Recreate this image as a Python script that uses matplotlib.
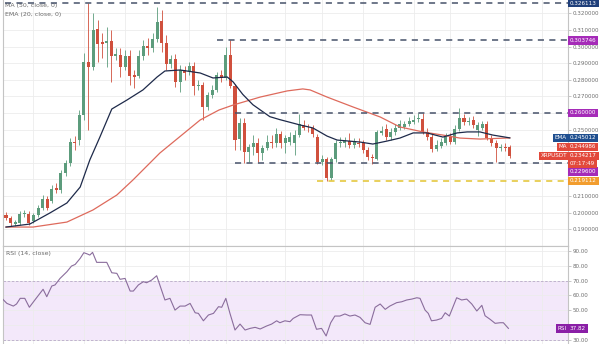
import numpy as np
import matplotlib
matplotlib.use("Agg")
import matplotlib.pyplot as plt

plt.rcParams['font.family'] = ['DejaVu Sans']

# ---------------- data ----------------
opens = [.1986,.1967,.1931,.1937,.1992,.1992,.1949,.1986,.2028,.2082,
         .2070,.2148,.2136,.2239,.2299,.2425,.2437,.2588,.2907,.2877,
         .3106,.3028,.3022,.3034,.2943,.2949,.2877,.2943,.2829,.2823,
         .2943,.3004,.2992,.3046,.3154,.3022,.2895,.2925,.2787,.2859,
         .2853,.2883,.2763,.2769,.2636,.2708,.2739,.2829,.2811,.2949,
         .2763,.2443,.2540,.2365,.2395,.2419,.2359,.2389,.2425,.2419,
         .2473,.2419,.2425,.2419,.2467,.2528,.2510,.2510,.2455,.2305,
         .2323,.2208,.2323,.2419,.2419,.2431,.2407,.2419,.2419,.2377,
         .2335,.2323,.2480,.2504,.2455,.2486,.2510,.2516,.2534,.2546,
         .2564,.2564,.2486,.2455,.2383,.2401,.2419,.2455,.2425,.2504,
         .2570,.2546,.2558,.2500,.2510,.2534,.2449,.2419,.2389,.2395,
         .2395]
highs = [.2004,.1980,.1955,.2010,.2016,.2010,.1998,.2046,.2106,.2100,
         .2166,.2178,.2257,.2317,.2449,.2461,.2618,.2961,.326113,.3202,
         .3160,.3082,.3118,.3100,.2992,.2992,.2980,.2980,.2859,.2980,
         .3040,.3052,.3082,.3238,.3220,.3070,.2949,.2955,.2889,.2883,
         .2907,.2907,.2799,.2787,.2727,.2769,.2847,.2859,.2998,.303746,
         .2775,.2570,.2570,.2413,.2467,.2449,.2407,.2467,.2467,.2510,
         .2492,.2467,.2486,.2498,.2595,.2558,.2534,.2528,.2473,.2347,
         .2335,.2335,.2437,.2455,.2455,.2480,.2449,.2449,.2437,.2395,
         .2353,.2498,.2522,.2534,.2510,.2534,.2558,.2552,.2576,.2588,
         .2600,.2600,.2510,.2480,.2437,.2449,.2480,.2480,.2528,.2630,
         .2594,.2576,.2582,.2546,.2552,.2552,.2467,.2437,.2413,.2419,
         .2407]
lows = [.1955,.1919,.1919,.1925,.1973,.1925,.1937,.1973,.2016,.2016,
        .2058,.2118,.2118,.2221,.2281,.2377,.2407,.2558,.2498,.2859,
        .2907,.2931,.2877,.2787,.2919,.2817,.2859,.2769,.2751,.2811,
        .2919,.2949,.2968,.3028,.2968,.2859,.2871,.2757,.2727,.2799,
        .2829,.2708,.2739,.2558,.2618,.2690,.2727,.2787,.2799,.2751,
        .2377,.2377,.2296,.2305,.2347,.2305,.2317,.2377,.2389,.2395,
        .2389,.2359,.2407,.2347,.2455,.2498,.2486,.2455,.2293,.2287,
        .219112,.2196,.2305,.2395,.2395,.2389,.2389,.2395,.2359,.2317,
        .2293,.2317,.2467,.2437,.2437,.2467,.2498,.2504,.2522,.2534,
        .2546,.2473,.2437,.2365,.2371,.2389,.2407,.2413,.2413,.2492,
        .2528,.2528,.2510,.2461,.2498,.2437,.2401,.2305,.2371,.2371,
        .2329]
closes = [.1967,.1937,.1943,.1992,.1995,.1937,.1986,.2028,.2082,.2028,
          .2142,.2136,.2239,.2299,.2425,.2419,.2588,.2907,.2877,.3100,
          .3016,.3016,.3034,.2943,.2955,.2877,.2943,.2823,.2817,.2943,
          .3004,.2992,.3046,.3148,.3022,.2895,.2925,.2787,.2859,.2841,
          .2883,.2763,.2769,.2636,.2708,.2739,.2829,.2811,.2949,.2763,
          .2437,.2540,.2365,.2395,.2419,.2359,.2389,.2425,.2422,.2473,
          .2419,.2449,.2455,.2467,.2534,.2510,.2507,.2473,.2305,.2323,
          .2208,.2323,.2419,.2425,.2431,.2407,.2431,.2416,.2377,.2335,
          .2329,.2486,.2492,.2455,.2486,.2510,.2534,.2534,.2552,.2558,
          .2570,.2486,.2455,.2383,.2407,.2425,.2455,.2425,.2504,.2570,
          .2546,.2549,.2528,.2528,.2534,.2449,.2419,.2389,.2395,.2389,
          .234217]

ema_idx = [0, 5.2, 9.6, 13.3, 16.2, 18.3, 20.5, 23.1, 26.4, 29.9, 33, 34.7, 38,
           42.4, 45.2, 48.3, 49.6, 51.7, 53.9, 57.6, 59.8, 64.2, 67, 70.1, 72.3,
           77.3, 80.1, 83.2, 86, 88.9, 91.9, 95.4, 98.5, 100.7, 103.5, 106.3, 110]
ema_val = [.1913, .1931, .1998, .2058, .2154, .2317, .2455, .2624, .2678, .2739,
           .2817, .2853, .2859, .2841, .2811, .2817, .2787, .2712, .2650, .2578,
           .2560, .2528, .2510, .2461, .2437, .2425, .2413, .2431, .2449, .2480,
           .2480, .2455, .2480, .2486, .2486, .2467, .245012]

ma_idx = [0, 5.9, 13.3, 19, 24.2, 27.7, 33.6, 42.4, 46.5, 49.6, 55.5, 61.4, 64.8,
          66.4, 70.1, 75.8, 81.7, 86, 91, 95.4, 99.1, 103.5, 110]
ma_val = [.1913, .1913, .1943, .2016, .2106, .2196, .2359, .2558, .2618, .2648,
          .2696, .2733, .2745, .2739, .2696, .2636, .2576, .2516, .2486, .2467,
          .2449, .2443, .244986]

rsi_idx = [-0.9, 0.2, 1.6, 2.3, 3.1, 4.1, 5.1, 6.3, 8.1, 8.9, 10.0, 10.7, 11.8,
           13.3, 14.3, 15.1, 16.2, 17.0, 17.8, 18.3, 18.9, 19.8, 20.5, 22.0,
           23.1, 24.2, 24.9, 26.0, 27.1, 27.8, 28.9, 30.0, 30.7, 31.8, 32.9,
           34.7, 35.8, 36.9, 38.0, 39.1, 40.2, 41.3, 42.0, 43.1, 44.2, 45.3,
           46.4, 47.1, 48.0, 48.9, 50.0, 51.1, 52.2, 53.3, 54.4, 55.5, 56.9,
           58.0, 59.1, 59.8, 60.9, 62.0, 62.7, 64.2, 65.7, 66.7, 67.8, 68.9,
           69.9, 70.9, 71.8, 72.9, 74.0, 75.1, 76.2, 77.3, 78.4, 79.5, 80.6,
           81.7, 82.8, 83.8, 85.3, 86.4, 87.5, 88.6, 89.7, 90.4, 91.5, 92.2,
           92.9, 94.0, 95.1, 95.9, 96.8, 98.4, 99.5, 100.6, 101.7, 102.8,
           103.9, 104.6, 105.7, 106.8, 107.9, 108.6, 109.7]
rsi_val = [58.0, 54.6, 52.8, 54.2, 58.0, 58.0, 52.0, 56.9, 64.1, 59.1, 66.3, 67.0,
           71.4, 75.9, 79.7, 80.8, 84.9, 88.7, 87.8, 87.1, 88.9, 82.2, 82.2, 82.2,
           75.2, 74.8, 70.8, 71.4, 62.9, 62.9, 67.0, 69.2, 68.5, 70.3, 73.2,
           56.9, 58.0, 50.1, 52.8, 52.8, 54.6, 48.3, 47.9, 42.9, 46.8, 47.9,
           52.4, 52.0, 58.0, 47.9, 36.7, 40.7, 36.7, 37.8, 38.5, 37.4, 39.4,
           40.7, 42.9, 41.6, 42.9, 42.3, 44.5, 47.0, 46.8, 46.8, 37.2, 37.8,
           32.7, 41.6, 46.1, 46.1, 47.5, 46.1, 46.8, 45.2, 41.6, 40.5, 52.0,
           54.2, 50.6, 52.8, 55.1, 55.7, 56.9, 57.5, 58.4, 58.0, 50.1, 47.9,
           42.9, 43.4, 44.5, 48.3, 46.1, 58.4, 56.9, 57.5, 54.2, 49.5, 53.3,
           46.3, 43.9, 41.2, 41.6, 41.6, 37.8]

level_vals = [0.326113, 0.303746, 0.260000, 0.229600, 0.219112]
level_start = [-0.2, 46, 50, 50, 68]
level_colors = ['#47526a', '#47526a', '#47526a', '#47526a', '#e3c330']
level_box = ['#1f3f7a', '#a52bb8', '#a52bb8', '#a52bb8', '#f29d2e']
level_box_dy = [0, 0, 0, -8, 0]

price_ticks = [0.19, 0.20, 0.21, 0.22, 0.23, 0.24, 0.25, 0.26, 0.27, 0.28,
               0.29, 0.30, 0.31, 0.32]
hidden_price_labels = [0.22, 0.23, 0.24, 0.26]   # covered by boxes in the reference
rsi_ticks = [30, 40, 50, 60, 70, 80, 90]
hidden_rsi_labels = [40]                         # covered by the RSI box
vgrid = [6, 17, 26, 40, 48, 61, 69, 78, 89, 97, 109, 117]

last_price = closes[-1]
ema_last = ema_val[-1]
ma_last = ma_val[-1]
rsi_last = 37.82
countdown = "07:17:49"

# ---------------- figure ----------------
W, H = 600, 344
fig = plt.figure(figsize=(W / 100, H / 100), dpi=100)
fig.patch.set_facecolor('white')
ax = fig.add_axes([3 / W, 98 / H, 565 / W, 246 / H])
rx = fig.add_axes([3 / W, 0, 565 / W, 98 / H], sharex=ax)

up_c, dn_c = '#5c9c7c', '#d0503d'
grid_c = '#ececec'
txt_c = '#707070'
fs = 4.1

idx = np.arange(len(opens))
o = np.array(opens); c = np.array(closes); h = np.array(highs); l = np.array(lows)
cols = np.where(c >= o, up_c, dn_c)
ax.vlines(idx, l, h, colors=cols, lw=0.6, zorder=3)
body_b = np.minimum(o, c)
body_h = np.maximum(np.abs(c - o), 0.00035)
ax.bar(idx, body_h, bottom=body_b, width=0.66, color=cols, zorder=4, linewidth=0)

ax.plot(ma_idx, ma_val, color='#de6a5c', lw=0.9, zorder=5)
ax.plot(ema_idx, ema_val, color='#1e2a4a', lw=0.9, zorder=5)

xl = (-0.655, 122.71)
ax.set_xlim(*xl)
ax.set_ylim(0.17988, 0.32807)

for v, s, lc in zip(level_vals, level_start, level_colors):
    ax.plot([s, xl[1]], [v, v], color=lc, lw=1.1, ls=(0, (4, 3.5)), zorder=6,
            solid_capstyle='butt', dash_capstyle='butt')

# grid
ax.set_xticks(vgrid)
ax.set_yticks(price_ticks)
ax.grid(True, color=grid_c, lw=0.6)
ax.set_axisbelow(True)
ax.yaxis.tick_right()
ax.set_yticklabels(["" if any(abs(t - hh) < 1e-9 for hh in hidden_price_labels)
                    else f"{t:.6f}" for t in price_ticks])
ax.tick_params(axis='y', labelsize=fs, colors='#b0b0b0', labelcolor=txt_c,
               length=2, width=0.5, pad=1.5)
ax.tick_params(axis='x', length=0, labelbottom=False)
ax.spines['top'].set_visible(False)
for sp in ['left', 'right', 'bottom']:
    ax.spines[sp].set_color('#c4c4c4')
    ax.spines[sp].set_linewidth(0.8)

# labels in the top-left
ax.text(2 / 565, 1 - 5 / 246, "MA (50, close, 0)", transform=ax.transAxes,
        fontsize=4.5, color='#6a6a6a', va='center', ha='left')
ax.text(2 / 565, 1 - 14.5 / 246, "EMA (20, close, 0)", transform=ax.transAxes,
        fontsize=4.5, color='#6a6a6a', va='center', ha='left')

def axis_box(a, val, text, fc, dy=0, side='right', tc='white'):
    if side == 'right':
        xy_off, ha = (2, dy), 'left'
    else:
        xy_off, ha = (-1, dy), 'right'
    a.annotate(text, xy=(1.0, val), xycoords=('axes fraction', 'data'),
               xytext=xy_off, textcoords='offset pixels', ha=ha, va='center',
               fontsize=fs, color=tc, annotation_clip=False, zorder=20,
               bbox=dict(boxstyle='square,pad=0.3', fc=fc, ec='none'))

for v, bc, dy in zip(level_vals, level_box, level_box_dy):
    axis_box(ax, v, f"{v:.6f}", bc, dy)

axis_box(ax, ema_last, f"{ema_last:.6f}", '#1f4f8f', 0)
axis_box(ax, ema_last, "EMA", '#1f4f8f', 0, side='left')
axis_box(ax, ma_last, f"{ma_last:.6f}", '#e2493b', -9)
axis_box(ax, ma_last, "MA", '#e2493b', -9, side='left')
axis_box(ax, last_price, f"{last_price:.6f}", '#e2493b', 0)
axis_box(ax, last_price, "XRPUSDT", '#e2493b', 0, side='left')
axis_box(ax, last_price, countdown, '#e2493b', -7.5)

# ---------------- RSI pane ----------------
rx.axhspan(30, 70, color='#f3e8fa', zorder=0, lw=0)
rx.axhline(70, color='#b9a9c9', lw=0.6, ls=(0, (3, 2)), zorder=1)
rx.axhline(30, color='#b9a9c9', lw=0.6, ls=(0, (3, 2)), zorder=1)
rx.plot(rsi_idx, rsi_val, color='#8a6d9c', lw=0.8, zorder=5)
rx.set_ylim(27.3, 93.2)
rx.set_yticks(rsi_ticks)
rx.yaxis.tick_right()
rx.set_yticklabels(["" if t in hidden_rsi_labels else f"{t:.2f}" for t in rsi_ticks])
rx.tick_params(axis='y', labelsize=fs, colors='#b0b0b0', labelcolor=txt_c,
               length=2, width=0.5, pad=1.5)
rx.tick_params(axis='x', length=0, labelbottom=False)
rx.grid(True, color=grid_c, lw=0.6)
rx.set_axisbelow(True)
for sp in ['left', 'right', 'top']:
    rx.spines[sp].set_color('#c4c4c4')
    rx.spines[sp].set_linewidth(0.8)
rx.spines['bottom'].set_visible(False)
rx.text(3 / 565, 1 - 8 / 98, "RSI (14, close)", transform=rx.transAxes,
        fontsize=4.5, color='#6a6a6a', va='center', ha='left')
axis_box(rx, rsi_last, f"{rsi_last:.2f}", '#8a1fa6', 0)
axis_box(rx, rsi_last, "RSI", '#8a1fa6', 0, side='left')

fig.savefig("out.png", dpi=100, facecolor='white')
